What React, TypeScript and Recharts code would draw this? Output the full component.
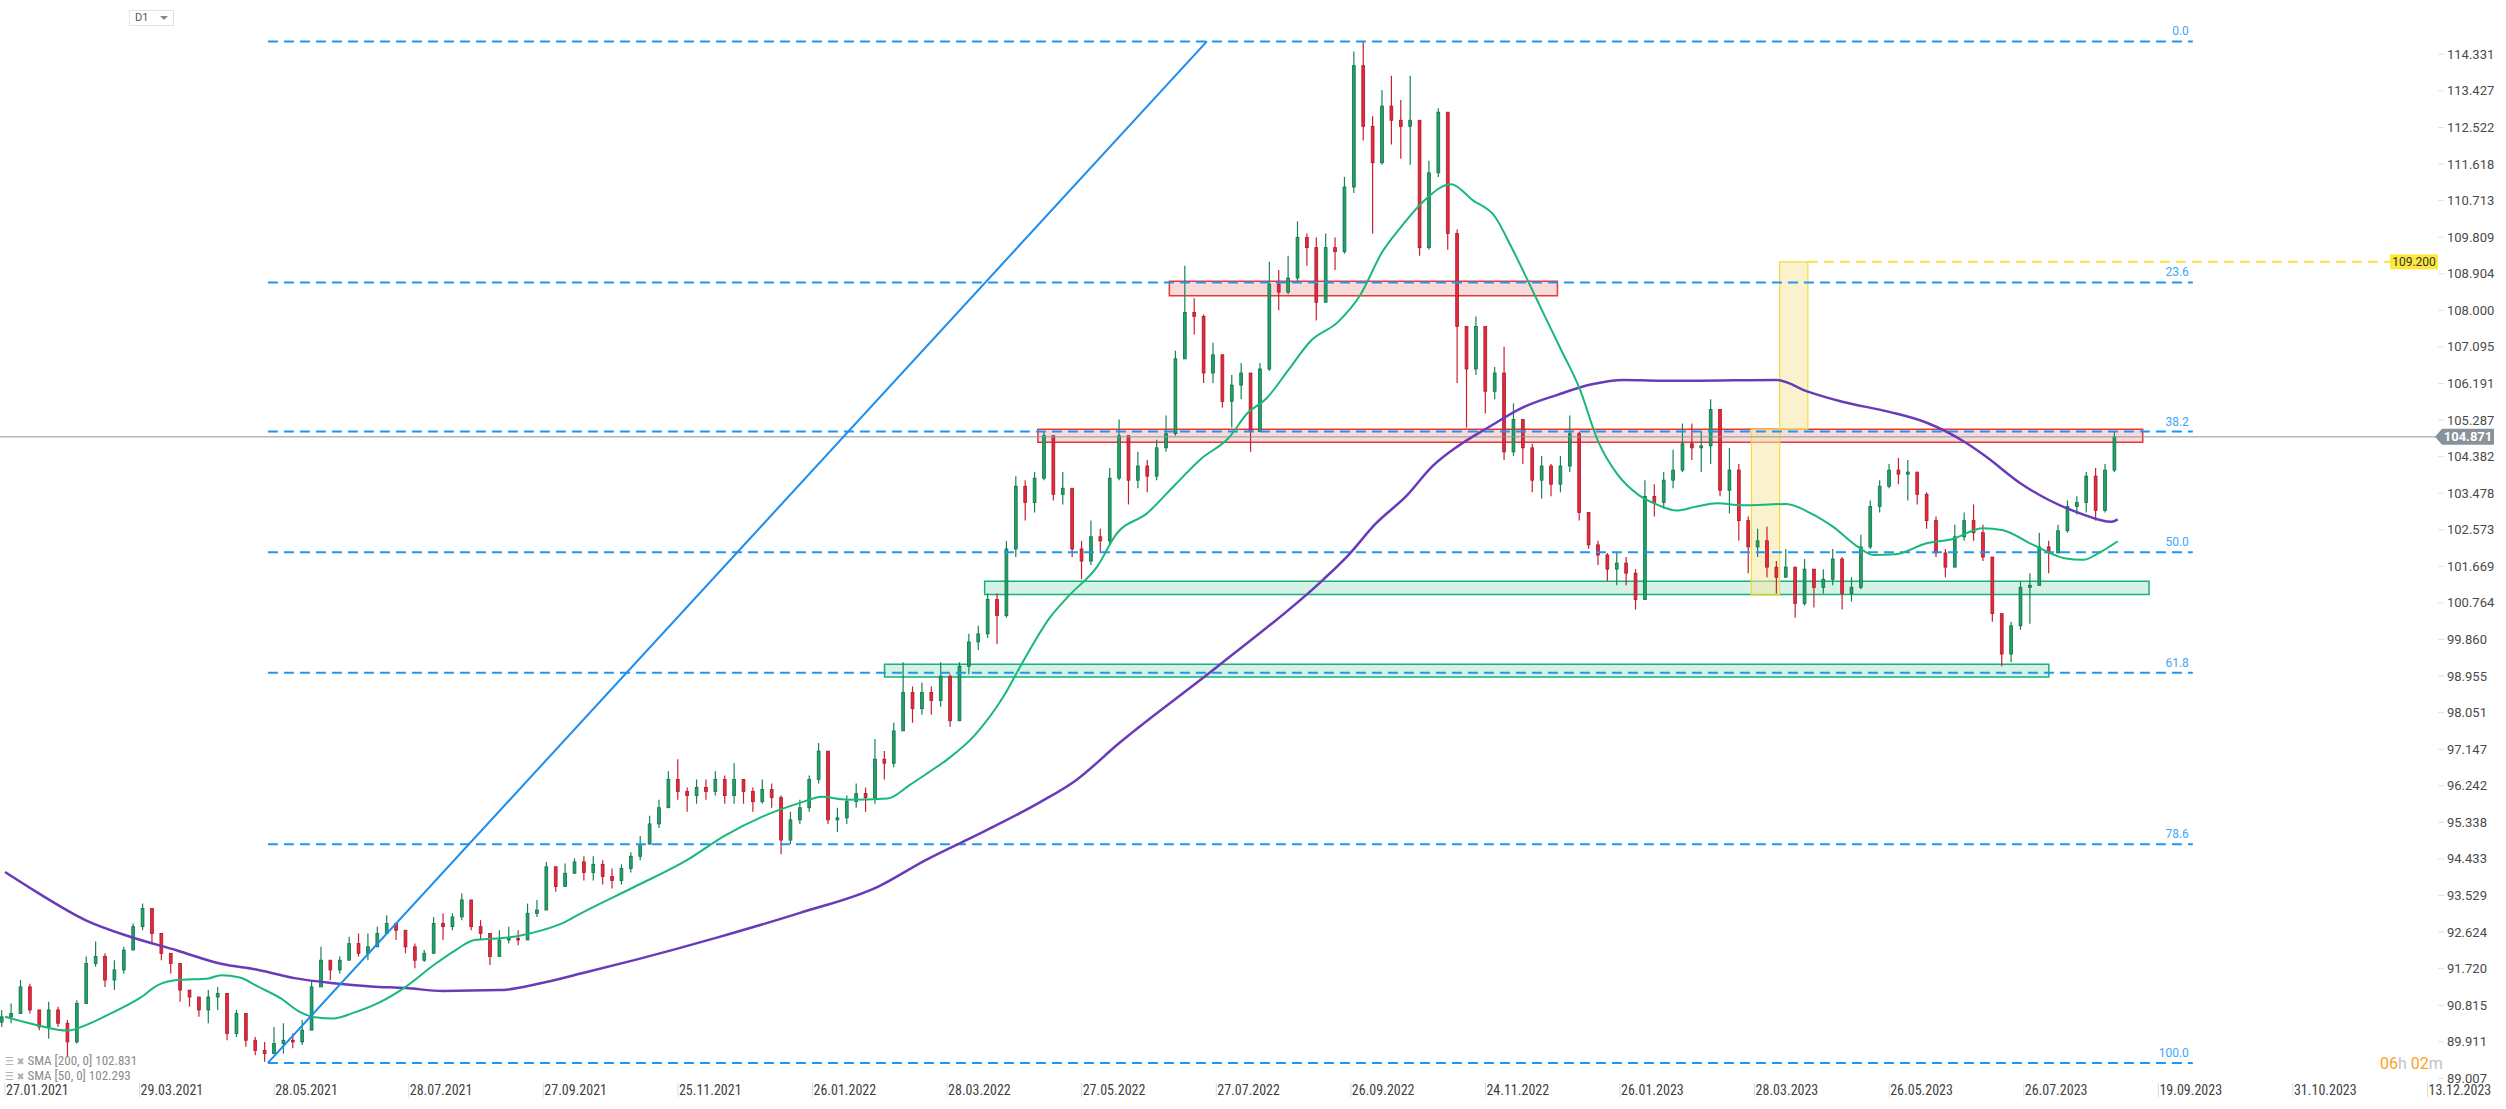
import React from 'react';
import { ComposedChart, Bar, Line, XAxis, YAxis, ReferenceLine, ReferenceArea } from 'recharts';

// 3-session candles (open = previous close)
const firstOpen = 90.4;
const barDays = 3;

const closes = [
  90.53, 90.61, 91.27, 90.70, 90.28, 90.70, 90.37, 89.91, 90.86, 91.85,
  92.02, 91.44, 91.69, 92.18, 92.76, 93.21, 92.59, 92.10, 91.85, 91.19,
  91.02, 90.70, 91.02, 91.11, 90.12, 90.61, 89.95, 89.70, 89.62, 89.87,
  89.95, 89.91, 90.20, 91.27, 91.93, 91.69, 91.93, 92.34, 92.10, 92.26,
  92.59, 92.84, 92.67, 92.26, 91.93, 92.10, 92.84, 92.76, 93.00, 93.42,
  92.76, 92.59, 92.02, 92.43, 92.47, 92.43, 93.09, 93.17, 94.24, 93.75,
  94.08, 94.36, 94.10, 94.30, 94.00, 93.90, 94.20, 94.50, 94.80, 95.30,
  95.70, 96.40, 96.10, 96.00, 96.20, 96.10, 96.40, 96.00, 96.40, 96.10,
  95.85, 96.15, 95.95, 94.90, 95.40, 95.70, 96.40, 97.10, 95.40, 95.45,
  95.85, 96.05, 95.95, 96.90, 96.80, 97.60, 98.55, 98.15, 98.55, 98.35,
  98.95, 97.85, 99.20, 99.80, 100.00, 100.85, 100.45, 102.10, 103.65, 103.25,
  103.85, 104.90, 103.45, 103.60, 102.10, 101.80, 102.40, 102.30, 103.85, 104.90,
  103.80, 104.15, 103.90, 104.60, 104.95, 106.80, 107.95, 107.85, 106.45, 106.90,
  105.75, 106.15, 106.45, 105.00, 106.55, 108.65, 108.45, 108.80, 109.80, 109.55,
  108.20, 109.55, 109.45, 111.05, 114.05, 112.55, 111.65, 113.05, 112.70, 112.55,
  112.70, 109.55, 111.40, 112.90, 109.90, 107.60, 106.55, 107.60, 106.00, 106.45,
  104.50, 105.30, 104.60, 103.80, 104.15, 103.70, 104.15, 104.95, 103.00, 102.20,
  101.95, 101.60, 101.75, 101.50, 100.85, 103.40, 103.25, 103.80, 104.05, 104.70,
  104.60, 104.65, 105.55, 103.55, 104.05, 102.80, 102.15, 102.30, 101.65, 101.40,
  101.65, 100.75, 101.60, 101.15, 101.35, 101.85, 101.00, 101.15, 102.15, 103.15,
  103.65, 104.05, 103.95, 104.00, 103.45, 102.80, 102.00, 101.65, 102.40, 102.80,
  102.50, 101.90, 100.50, 99.50, 100.20, 101.15, 101.20, 102.15, 102.00, 102.55,
  103.15, 103.25, 103.90, 103.05, 104.05, 104.87,
];

const highs = [
  90.70, 90.86, 91.44, 91.35, 90.61, 90.90, 90.78, 90.45, 90.94, 92.02,
  92.39, 92.10, 91.93, 92.26, 92.84, 93.33, 93.17, 92.43, 92.10, 91.60,
  91.19, 90.94, 91.19, 91.27, 90.94, 90.70, 90.61, 90.03, 89.91, 90.28,
  90.37, 90.12, 90.45, 91.44, 92.26, 91.85, 92.02, 92.51, 92.59, 92.59,
  92.76, 93.04, 92.84, 92.67, 92.34, 92.18, 93.00, 93.09, 93.09, 93.58,
  93.09, 92.92, 92.34, 92.67, 92.76, 92.67, 93.33, 93.42, 94.36, 94.24,
  94.32, 94.45, 94.50, 94.50, 94.40, 94.20, 94.30, 94.60, 95.00, 95.50,
  95.90, 96.60, 96.90, 96.20, 96.40, 96.40, 96.60, 96.50, 96.80, 96.40,
  96.20, 96.40, 96.30, 96.00, 95.60, 95.90, 96.50, 97.30, 97.00, 95.70,
  96.00, 96.30, 96.20, 97.40, 97.10, 97.80, 99.30, 98.70, 98.80, 98.70,
  99.30, 99.00, 99.30, 100.00, 100.20, 101.00, 101.00, 102.30, 103.90, 103.80,
  104.00, 105.00, 104.90, 104.00, 103.40, 102.30, 102.80, 102.60, 104.10, 105.30,
  104.80, 104.50, 104.30, 104.80, 105.40, 107.00, 109.10, 108.30, 107.90, 107.20,
  106.90, 106.40, 106.70, 106.20, 106.70, 109.20, 109.00, 109.35, 110.20, 109.90,
  109.80, 109.90, 109.80, 111.30, 114.40, 114.65, 112.80, 113.45, 113.80, 113.20,
  113.80, 112.70, 111.70, 113.00, 112.90, 110.00, 107.60, 107.85, 107.60, 106.60,
  107.10, 105.70, 105.10, 104.70, 104.40, 104.20, 104.40, 105.40, 105.00, 103.00,
  102.30, 102.00, 102.00, 101.90, 101.60, 103.80, 103.70, 104.00, 104.55, 105.20,
  105.20, 105.00, 105.80, 105.30, 104.60, 104.20, 102.90, 102.60, 102.65, 101.80,
  102.10, 101.60, 101.85, 101.60, 101.60, 102.10, 101.90, 101.40, 102.45, 103.30,
  103.80, 104.20, 104.35, 104.30, 104.00, 103.50, 102.90, 102.10, 102.70, 103.00,
  103.20, 102.70, 101.40, 100.50, 100.30, 101.30, 101.50, 102.50, 102.30, 102.70,
  103.30, 103.40, 104.00, 104.10, 104.20, 105.00,
];

const lows = [
  90.28, 90.37, 90.61, 90.61, 90.20, 89.99, 90.28, 89.54, 89.87, 90.86,
  91.77, 91.27, 91.19, 91.60, 92.18, 92.67, 92.34, 91.93, 91.60, 90.90,
  90.78, 90.53, 90.37, 90.70, 89.95, 90.03, 89.79, 89.58, 89.42, 89.70,
  89.62, 89.75, 89.83, 90.28, 91.60, 91.44, 91.60, 91.93, 92.02, 91.93,
  92.26, 92.59, 92.43, 92.10, 91.73, 91.89, 92.10, 92.43, 92.67, 92.92,
  92.67, 92.43, 91.81, 92.10, 92.34, 92.30, 92.84, 93.00, 93.42, 93.62,
  93.91, 94.08, 93.90, 93.90, 93.80, 93.70, 93.80, 94.10, 94.40, 94.80,
  95.20, 95.70, 95.90, 95.60, 95.80, 95.90, 96.00, 95.80, 95.80, 95.80,
  95.60, 95.80, 95.70, 94.55, 94.80, 95.30, 95.60, 96.30, 95.30, 95.10,
  95.30, 95.70, 95.60, 95.80, 96.40, 96.70, 97.60, 97.80, 98.00, 98.00,
  98.20, 97.70, 97.90, 99.00, 99.60, 99.90, 99.75, 100.40, 101.90, 102.80,
  103.00, 103.80, 103.30, 103.20, 101.90, 101.35, 101.70, 102.00, 102.20, 103.80,
  103.20, 103.60, 103.50, 103.80, 104.50, 104.90, 106.80, 107.40, 106.20, 106.20,
  105.60, 105.10, 105.80, 104.50, 105.00, 106.50, 108.00, 108.40, 108.70, 109.10,
  107.75, 108.20, 109.00, 109.40, 110.90, 112.20, 109.90, 111.60, 112.10, 111.75,
  111.60, 109.35, 109.50, 111.30, 109.50, 106.20, 105.10, 106.40, 105.45, 105.80,
  104.30, 104.40, 104.20, 103.50, 103.35, 103.40, 103.50, 104.00, 102.80, 102.10,
  101.70, 101.30, 101.20, 101.20, 100.60, 100.90, 102.90, 103.10, 103.60, 104.00,
  104.30, 104.00, 104.20, 103.40, 102.98, 102.30, 101.50, 101.90, 101.40, 101.00,
  101.40, 100.40, 100.70, 100.65, 101.00, 101.20, 100.60, 100.80, 101.10, 102.10,
  103.00, 103.60, 103.70, 103.30, 103.20, 102.60, 101.90, 101.40, 101.70, 102.30,
  102.30, 101.80, 100.30, 99.20, 99.30, 100.10, 100.25, 101.30, 101.50, 102.00,
  102.50, 102.95, 103.00, 102.80, 103.00, 104.00,
];

// [session index, value]
const sma200: [number, number][] = [
  [1, 94.11], [11, 93.62], [27, 92.91], [41, 92.51], [56, 92.17], [70, 91.84], [82, 91.69],
  [94, 91.48], [106, 91.36], [118, 91.28], [129, 91.24], [141, 91.17], [159, 91.19],
  [171, 91.34], [185, 91.6], [203, 91.95], [229, 92.5], [255, 93.1], [280, 93.75],
  [295, 94.4], [314, 95.12], [332, 95.85], [343, 96.37], [357, 97.3], [389, 99.23],
  [422, 101.33], [430, 101.93], [439, 102.73], [449, 103.43], [457, 104.14], [465, 104.63],
  [475, 105.11], [486, 105.6], [497, 105.91], [508, 106.17], [518, 106.28], [530, 106.26],
  [540, 106.26], [567, 106.28], [577, 105.99], [588, 105.74], [603, 105.49], [615, 105.22],
  [627, 104.75], [634, 104.38], [645, 103.72], [654, 103.31], [664, 102.98], [674, 102.77],
  [676, 102.83],
];

const sma50: [number, number][] = [
  [1, 90.53], [11, 90.33], [21, 90.19], [27, 90.33], [35, 90.62], [44, 90.99], [50, 91.32],
  [56, 91.44], [66, 91.48], [70, 91.56], [76, 91.5], [82, 91.27], [89, 90.99], [95, 90.66],
  [100, 90.52], [106, 90.49], [112, 90.62], [120, 90.86], [129, 91.27], [138, 91.81],
  [145, 92.18], [151, 92.43], [159, 92.47], [165, 92.53], [173, 92.68], [179, 92.84],
  [185, 93.09], [202, 93.74], [219, 94.41], [231, 95.01], [243, 95.48], [255, 95.82],
  [262, 95.97], [270, 95.9], [283, 95.93], [290, 96.26], [296, 96.57], [302, 96.89],
  [311, 97.51], [320, 98.45], [326, 99.28], [335, 100.42], [341, 100.95], [350, 101.67],
  [356, 102.46], [366, 102.99], [375, 103.7], [383, 104.32], [392, 104.85], [398, 105.46],
  [404, 105.82], [411, 106.52], [418, 107.23], [427, 107.72], [434, 108.38], [441, 109.44],
  [447, 110.06], [454, 110.68], [463, 111.12], [470, 110.72], [477, 110.32], [482, 109.61],
  [487, 108.82], [493, 107.85], [498, 107.05], [504, 106.08], [510, 104.76], [516, 103.96],
  [523, 103.43], [529, 103.19], [535, 103.05], [541, 103.14], [548, 103.23], [556, 103.18],
  [570, 103.21], [578, 102.98], [585, 102.65], [593, 102.15], [598, 101.95], [605, 101.97],
  [615, 102.24], [623, 102.34], [633, 102.61], [639, 102.57], [649, 102.2], [659, 101.87],
  [665, 101.83], [670, 102.0], [676, 102.29],
];

const dateLabels = [
  '27.01.2021', '29.03.2021', '28.05.2021', '28.07.2021', '27.09.2021', '25.11.2021',
  '26.01.2022', '28.03.2022', '27.05.2022', '27.07.2022', '26.09.2022', '24.11.2022',
  '26.01.2023', '28.03.2023', '26.05.2023', '26.07.2023', '19.09.2023', '31.10.2023',
  '13.12.2023',
];
const sessionsPerLabel = 43;

const priceTicks = [
  89.007, 89.911, 90.815, 91.72, 92.624, 93.529, 94.433, 95.338, 96.242, 97.147,
  98.051, 98.955, 99.86, 100.764, 101.669, 102.573, 103.478, 104.382, 105.287, 106.191,
  107.095, 108.0, 108.904, 109.809, 110.713, 111.618, 112.522, 113.427, 114.331,
];

// fibonacci retracement drawn from the May 2021 low to the Sep 2022 high
const fibHigh = 114.65;
const fibLow = 89.39;
const fibLevels = [0, 23.6, 38.2, 50, 61.8, 78.6, 100];
const fibStart = 85;
const fibEnd = 700;

const trendStart = { x: 85, y: 89.39 };
const trendEnd = { x: 385, y: 114.65 };

const redZones = [
  { x1: 373, x2: 497, y1: 108.36, y2: 108.72 },
  { x1: 331, x2: 684, y1: 104.74, y2: 105.06 },
];
const greenZones = [
  { x1: 314, x2: 686, y1: 100.97, y2: 101.3 },
  { x1: 282, x2: 654, y1: 98.93, y2: 99.25 },
];
const moveBoxes = [
  { x1: 559, x2: 568, y1: 100.95, y2: 105.06 },
  { x1: 568, x2: 577, y1: 105.06, y2: 109.2 },
];
const targetPrice = 109.2;
const targetStart = 577;
const targetEnd = 763;
const lastPrice = 104.871;

const candles = closes.map((close, i) => {
  const open = i === 0 ? firstOpen : closes[i - 1];
  return {
    d: i * barDays,
    open,
    close,
    high: Math.max(highs[i], open, close),
    low: Math.min(lows[i], open, close),
  };
});

const sma200Data = sma200.map(([d, v]) => ({ d, v }));
const sma50Data = sma50.map(([d, v]) => ({ d, v }));
const dateTicks = dateLabels.map((_, i) => 1 + i * sessionsPerLabel);

const NARROW = "'Liberation Sans Narrow', 'Roboto Condensed', 'DejaVu Sans Condensed', sans-serif";

function Candle(props: any) {
  const { x, y, width, height, payload } = props;
  if (!payload) return null;
  const { open, close, high, low } = payload;
  const h = Math.abs(height);
  const top = height < 0 ? y + height : y;
  const span = high - low || 1;
  const py = (p: number) => top + ((high - p) / span) * h;
  const up = close >= open;
  const cx = x + width / 2;
  const bTop = py(Math.max(open, close));
  const bBot = py(Math.min(open, close));
  const fill = up ? '#21a267' : '#e8283c';
  const edge = up ? '#11714a' : '#a8192a';
  return (
    <g>
      <line x1={cx} x2={cx} y1={top} y2={top + h} stroke={up ? '#178353' : '#c81f31'} strokeWidth={1.2} />
      <rect x={x} y={bTop} width={width} height={Math.max(1, bBot - bTop)} fill={fill} stroke={edge} strokeWidth={0.8} />
    </g>
  );
}

function PriceTick(props: any) {
  const { x, y, payload } = props;
  return (
    <g>
      <line x1={x + 2} x2={x + 8} y1={y} y2={y} stroke="#e0e0e0" />
      <text x={x + 11} y={y + 4.5} fontSize={13} fill="#4a4a4a" fontFamily="Roboto, sans-serif">
        {Number(payload.value).toFixed(3)}
      </text>
    </g>
  );
}

function DateTick(props: any) {
  const { x, y, payload, index } = props;
  const i = typeof index === 'number' ? index : dateTicks.indexOf(payload.value);
  return (
    <g>
      <line x1={x} x2={x} y1={y + 1} y2={y + 15} stroke="#dcdcdc" />
      <text x={x + 1} y={y + 13} fontSize={14} fill="#3f3f3f" fontFamily={NARROW}>
        {dateLabels[i]}
      </text>
    </g>
  );
}

function endOf(vb: any) {
  if (!vb) return { x: 0, y: 0 };
  if (vb.x2 !== undefined) return { x: Math.max(vb.x1, vb.x2), y: vb.y2 };
  return { x: (vb.x ?? 0) + (vb.width ?? 0), y: vb.y ?? 0 };
}

function FibLabel(props: any) {
  const e = endOf(props.viewBox);
  return (
    <text x={e.x - 4} y={e.y - 6} textAnchor="end" fontSize={12} fill="#42a5f5" fontFamily="Roboto, sans-serif">
      {props.text}
    </text>
  );
}

function PriceTag(props: any) {
  const e = endOf(props.viewBox);
  const x = e.x;
  const y = e.y;
  return (
    <g>
      <polygon
        points={`${x - 1},${y} ${x + 6},${y - 8} ${x + 58},${y - 8} ${x + 58},${y + 8} ${x + 6},${y + 8}`}
        fill="#87929a"
      />
      <text x={x + 32} y={y + 4.5} textAnchor="middle" fontSize={13} fontWeight="bold" fill="#ffffff" fontFamily="Roboto, sans-serif">
        {props.text}
      </text>
    </g>
  );
}

function TargetTag(props: any) {
  const e = endOf(props.viewBox);
  return (
    <g>
      <rect x={e.x} y={e.y - 7.5} width={48} height={15} fill="#fde93b" />
      <text x={e.x + 24} y={e.y + 4} textAnchor="middle" fontSize={12} fill="#333" fontFamily="Roboto, sans-serif">
        {props.text}
      </text>
    </g>
  );
}

export default function App() {
  return (
    <div style={{ position: 'absolute', left: 0, top: 0, width: 2506, height: 1109, background: '#fff', fontFamily: 'Roboto, sans-serif' }}>
      <ComposedChart width={2506} height={1109} data={candles} margin={{ top: 0, right: 0, bottom: 0, left: 0 }}>
        <XAxis
          dataKey="d"
          type="number"
          domain={[-0.6, 777.7]}
          allowDataOverflow
          ticks={dateTicks}
          interval={0}
          height={27}
          axisLine={false}
          tickLine={false}
          tickSize={0}
          tickMargin={0}
          tick={<DateTick />}
        />
        <YAxis
          orientation="right"
          type="number"
          domain={[88.918, 115.674]}
          allowDataOverflow
          ticks={priceTicks}
          interval={0}
          width={70}
          axisLine={false}
          tickLine={false}
          tickSize={0}
          tickMargin={0}
          tick={<PriceTick />}
        />

        {fibLevels.map((lv) => {
          const p = fibHigh - (lv / 100) * (fibHigh - fibLow);
          return (
            <ReferenceLine
              key={'fib' + lv}
              segment={[{ x: fibStart, y: p }, { x: fibEnd, y: p }]}
              stroke="#2196f3"
              strokeWidth={2}
              strokeDasharray="10 6"
              label={<FibLabel text={lv.toFixed(1)} />}
            />
          );
        })}

        <ReferenceLine y={lastPrice} stroke="#8c969c" strokeWidth={1} label={<PriceTag text={lastPrice.toFixed(3)} />} />

        {redZones.map((z, i) => (
          <ReferenceArea key={'r' + i} x1={z.x1} x2={z.x2} y1={z.y1} y2={z.y2} fill="#f4b6b6" fillOpacity={0.5} stroke="#e53935" strokeWidth={1.5} />
        ))}
        {greenZones.map((z, i) => (
          <ReferenceArea key={'g' + i} x1={z.x1} x2={z.x2} y1={z.y1} y2={z.y2} fill="#a9e6cc" fillOpacity={0.5} stroke="#19b07a" strokeWidth={1.5} />
        ))}
        {moveBoxes.map((z, i) => (
          <ReferenceArea key={'y' + i} x1={z.x1} x2={z.x2} y1={z.y1} y2={z.y2} fill="#f5e7a6" fillOpacity={0.55} stroke="#f2dc3a" strokeWidth={1.2} />
        ))}

        <ReferenceLine
          segment={[{ x: targetStart, y: targetPrice }, { x: targetEnd, y: targetPrice }]}
          stroke="#fbe23a"
          strokeWidth={2}
          strokeDasharray="10 6"
          label={<TargetTag text={targetPrice.toFixed(3)} />}
        />

        <Bar dataKey={(c: any) => [c.low, c.high]} barSize={6} shape={(p: any) => <Candle {...p} />} isAnimationActive={false} />

        <Line data={sma200Data} dataKey="v" type="monotone" dot={false} activeDot={false} stroke="#6a3bb8" strokeWidth={2.5} isAnimationActive={false} />
        <Line data={sma50Data} dataKey="v" type="monotone" dot={false} activeDot={false} stroke="#17b878" strokeWidth={2} isAnimationActive={false} />

        <ReferenceLine segment={[trendStart, trendEnd]} stroke="#1a8cf0" strokeWidth={2} />
      </ComposedChart>

      <div style={{ position: 'absolute', left: 129, top: 10, width: 43, height: 14, border: '1px solid #e2e2e2', fontSize: 11, color: '#555', lineHeight: '14px' }}>
        <span style={{ position: 'absolute', left: 5 }}>D1</span>
        <span style={{ position: 'absolute', right: 5, top: 5, width: 0, height: 0, borderLeft: '4px solid transparent', borderRight: '4px solid transparent', borderTop: '4px solid #888' }} />
      </div>

      <div style={{ position: 'absolute', left: 5, top: 1054, fontFamily: NARROW, fontSize: 13, color: '#8a8a8a', lineHeight: '14px' }}>
        <div>
          <span style={{ fontSize: 11, color: '#b0b0b0' }}>☰</span> <span style={{ fontSize: 10, color: '#b0b0b0' }}>✖</span> SMA [200, 0] 102.831
        </div>
        <div>
          <span style={{ fontSize: 11, color: '#b0b0b0' }}>☰</span> <span style={{ fontSize: 10, color: '#b0b0b0' }}>✖</span> SMA [50, 0] 102.293
        </div>
      </div>

      <div style={{ position: 'absolute', left: 2380, top: 1054, fontSize: 16, lineHeight: '20px' }}>
        <span style={{ color: '#ff9d1e' }}>06</span>
        <span style={{ color: '#c2c2c2' }}>h </span>
        <span style={{ color: '#ff9d1e' }}>02</span>
        <span style={{ color: '#c2c2c2' }}>m</span>
      </div>
    </div>
  );
}
